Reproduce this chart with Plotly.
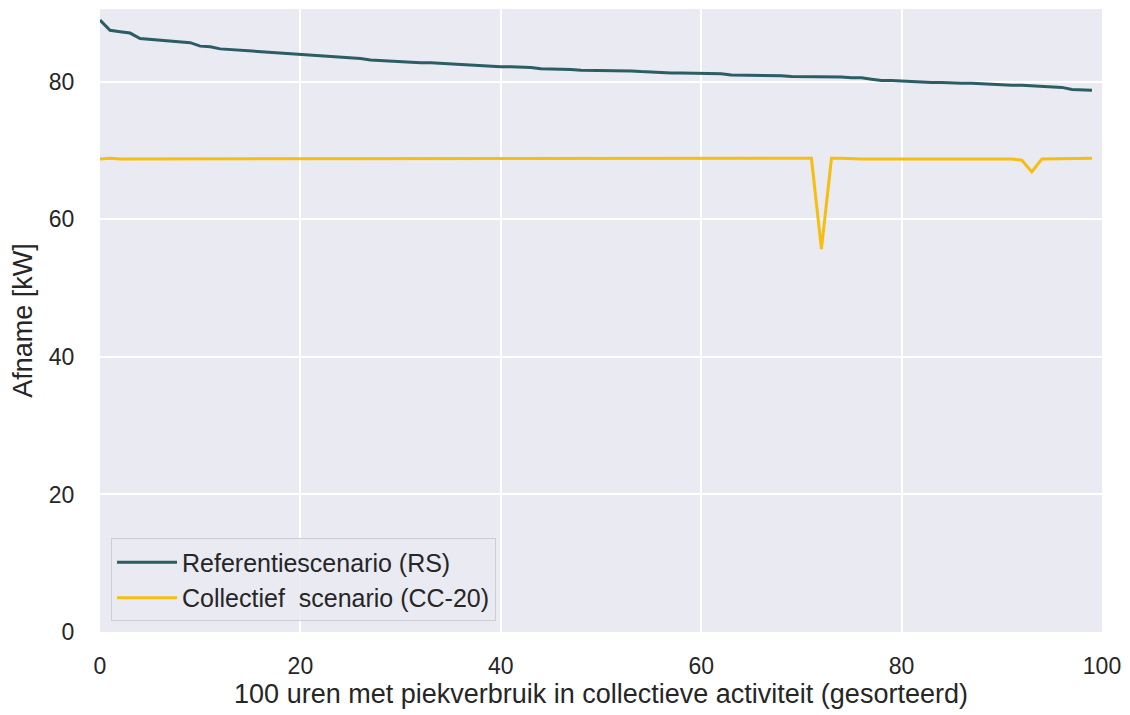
import plotly.graph_objects as go

# Sorted peak hours (0..99)
hours = list(range(100))

# Reference scenario (RS), demand in kW
rs_kw = [
    89.0, 87.5, 87.3, 87.1, 86.3, 86.2, 86.1, 86.0, 85.9, 85.7,
    85.2, 85.1, 84.8, 84.7, 84.6, 84.5, 84.4, 84.3, 84.2, 84.2,
    84.0, 83.9, 83.8, 83.7, 83.6, 83.5, 83.4, 83.2, 83.1, 83.0,
    82.9, 82.8, 82.8, 82.8, 82.7, 82.7, 82.6, 82.5, 82.4, 82.3,
    82.2, 82.2, 82.2, 82.1, 81.9, 81.9, 81.8, 81.8, 81.7, 81.7,
    81.7, 81.6, 81.6, 81.6, 81.5, 81.4, 81.4, 81.3, 81.3, 81.3,
    81.3, 81.3, 81.2, 81.0, 81.0, 81.0, 80.9, 80.9, 80.9, 80.8,
    80.8, 80.8, 80.7, 80.7, 80.7, 80.6, 80.6, 80.4, 80.2, 80.2,
    80.1, 80.0, 80.0, 79.9, 79.9, 79.8, 79.8, 79.8, 79.7, 79.7,
    79.6, 79.5, 79.5, 79.4, 79.3, 79.2, 79.2, 78.9, 78.9, 78.8,
]

# Collective scenario (CC-20), demand in kW
cc_kw = [
    68.8, 68.9, 68.8, 68.8, 68.8, 68.9, 68.9, 68.8, 68.9, 68.8,
    68.9, 68.9, 68.8, 68.8, 68.8, 68.8, 68.9, 68.8, 68.8, 68.8,
    68.8, 68.8, 68.9, 68.8, 68.8, 68.8, 68.9, 68.9, 68.8, 68.8,
    68.9, 68.8, 68.8, 68.9, 68.8, 68.8, 68.8, 68.9, 68.9, 68.8,
    68.9, 68.8, 68.9, 68.8, 68.8, 68.9, 68.8, 68.8, 68.9, 68.8,
    68.9, 68.8, 68.8, 68.8, 68.8, 68.9, 68.8, 68.8, 68.9, 68.9,
    68.9, 68.8, 68.8, 68.9, 68.9, 68.8, 68.8, 68.8, 68.8, 68.9,
    68.9, 68.9, 55.7, 68.9, 68.9, 68.8, 68.8, 68.8, 68.8, 68.9,
    68.9, 68.8, 68.9, 68.8, 68.8, 68.8, 68.8, 68.8, 68.9, 68.9,
    68.8, 68.8, 68.6, 66.9, 68.8, 68.8, 68.9, 68.8, 68.9, 68.9,
]

series_names = ["Referentiescenario (RS)", "Collectief  scenario (CC-20)"]
series_colors = ["#2B5D64", "#F6BE10"]

x_ticks = [0, 20, 40, 60, 80, 100]
y_ticks = [0, 20, 40, 60, 80]

font_family = "Arial, Liberation Sans, DejaVu Sans, sans-serif"
text_color = "#262626"

fig = go.Figure()
for name, ys, color in zip(series_names, [rs_kw, cc_kw], series_colors):
    fig.add_trace(go.Scatter(
        x=hours, y=ys, mode="lines", name=name,
        line=dict(color=color, width=3),
    ))

fig.update_layout(
    width=1130, height=715,
    margin=dict(l=100, r=26, t=9, b=83),
    paper_bgcolor="white",
    plot_bgcolor="#EAEAF2",
    font=dict(family=font_family, size=23, color=text_color),
    legend=dict(
        x=0.011, y=0.017, xanchor="left", yanchor="bottom",
        bgcolor="rgba(234,234,242,0.85)",
        bordercolor="#CDCDD4", borderwidth=1,
        font=dict(size=25, color=text_color),
        itemwidth=60,
        tracegroupgap=2,
    ),
)

fig.update_xaxes(
    range=[0, 100], tickvals=x_ticks, ticktext=[str(v) for v in x_ticks],
    showgrid=True, gridcolor="white", gridwidth=1.8, zeroline=False,
    ticks="outside", ticklen=13, tickcolor="white",
    tickfont=dict(size=23, color=text_color),
    title=dict(text="100 uren met piekverbruik in collectieve activiteit (gesorteerd)",
               font=dict(size=27, color=text_color), standoff=4),
    showline=False,
)
fig.update_yaxes(
    range=[0, 90.6], tickvals=y_ticks, ticktext=[str(v) for v in y_ticks],
    showgrid=True, gridcolor="white", gridwidth=1.8, zeroline=False,
    ticks="outside", ticklen=20, tickcolor="white",
    tickfont=dict(size=23, color=text_color),
    title=dict(text="Afname [kW]", font=dict(size=27, color=text_color), standoff=8),
    showline=False,
)

fig.write_html("out.html")
